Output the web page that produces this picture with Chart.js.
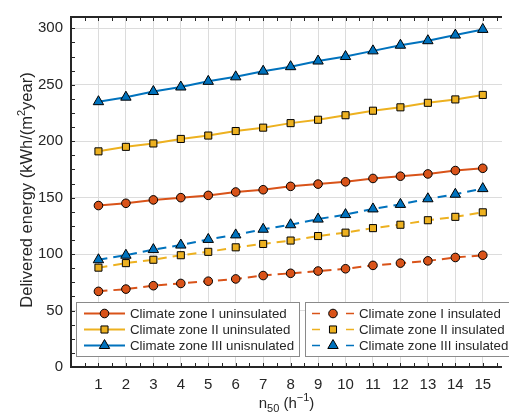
<!DOCTYPE html>
<html lang="en">
<head>
<meta charset="UTF-8">
<title>Delivered energy vs n50</title>
<script src="https://cdn.jsdelivr.net/npm/chart.js"></script>
<style>
  html, body { margin: 0; padding: 0; background: #fff; }
  #wrap { position: relative; width: 509px; height: 412px; }
</style>
</head>
<body>
<div id="wrap"><canvas id="energyChart" width="509" height="412"></canvas></div>
<script>
// air change rate n50 (1/h)
const n50 = [1, 2, 3, 4, 5, 6, 7, 8, 9, 10, 11, 12, 13, 14, 15];

// delivered energy, kWh/(m2 year)
const zone1Uninsulated = [143, 145, 148, 150, 152, 155, 157, 160, 162, 164, 167, 169, 171, 174, 176];
const zone2Uninsulated = [191, 195, 198, 202, 205, 209, 212, 216, 219, 223, 227, 230, 234, 237, 241];
const zone3Uninsulated = [235, 239, 244, 248, 253, 257, 262, 266, 271, 275, 280, 285, 289, 294, 299];
const zone1Insulated = [67, 69, 72, 74, 76, 78, 81, 83, 85, 87, 90, 92, 94, 97, 99];
const zone2Insulated = [88, 92, 95, 99, 102, 106, 109, 112, 116, 119, 123, 126, 130, 133, 137];
const zone3Insulated = [95, 99, 104, 108, 113, 117, 122, 126, 131, 135, 140, 144, 149, 153, 158];

const uninsulatedLabels = ['Climate zone I uninsulated', 'Climate zone II uninsulated', 'Climate zone III unisnulated'];
const insulatedLabels = ['Climate zone I insulated', 'Climate zone II insulated', 'Climate zone III insulated'];

const xTickValues = n50;
const yTickValues = [0, 50, 100, 150, 200, 250, 300];

const RED = '#D95319', YELLOW = '#EDB120', BLUE = '#0072BD';
const TXT = '#262626';
const FONT = '"Liberation Sans", Arial, sans-serif';

function pts(vals) {
    return vals.map((v, i) => ({ x: n50[i], y: v }));
}

function series(label, vals, color, style, radius, dashed) {
    return {
        label: label,
        data: pts(vals),
        borderColor: color,
        backgroundColor: color,
        borderWidth: 2,
        borderDash: dashed ? [9, 6] : [],
        pointStyle: style,
        pointRadius: radius,
        pointBackgroundColor: color,
        pointBorderColor: '#000',
        pointBorderWidth: 1,
        fill: false,
        tension: 0
    };
}

const datasets = [
    series(insulatedLabels[0], zone1Insulated, RED, 'circle', 4.3, true),
    series(insulatedLabels[1], zone2Insulated, YELLOW, 'rect', 5, true),
    series(insulatedLabels[2], zone3Insulated, BLUE, 'triangle', 6, true),
    series(uninsulatedLabels[0], zone1Uninsulated, RED, 'circle', 4.3, false),
    series(uninsulatedLabels[1], zone2Uninsulated, YELLOW, 'rect', 5, false),
    series(uninsulatedLabels[2], zone3Uninsulated, BLUE, 'triangle', 6, false)
];

// axis box, minor ticks, titles and the two legend boxes
const decorations = {
    id: 'decorations',
    afterDraw(chart) {
        const ctx = chart.ctx;
        const a = chart.chartArea;
        const x = chart.scales.x, y = chart.scales.y;
        ctx.save();

        // ticks (pointing inward)
        ctx.strokeStyle = TXT;
        ctx.lineWidth = 1;
        ctx.beginPath();
        for (let v = 0.5; v < x.max; v += 0.5) {
            const px = Math.round(x.getPixelForValue(v)) + 0.5;
            ctx.moveTo(px, a.bottom); ctx.lineTo(px, a.bottom - 4);
            ctx.moveTo(px, a.top); ctx.lineTo(px, a.top + 4);
        }
        for (let v = 12.5; v < y.max; v += 12.5) {
            const py = Math.round(y.getPixelForValue(v)) + 0.5;
            ctx.moveTo(a.left, py); ctx.lineTo(a.left + 4, py);
        }
        ctx.stroke();

        // axis lines
        ctx.lineWidth = 2;
        ctx.beginPath();
        ctx.moveTo(a.right, a.top); ctx.lineTo(a.left, a.top);
        ctx.lineTo(a.left, a.bottom); ctx.lineTo(a.right, a.bottom);
        ctx.stroke();

        // legends
        function box(x0, y0, w, h) {
            ctx.fillStyle = '#fff';
            ctx.fillRect(x0, y0, w, h);
            ctx.strokeStyle = '#8a8a8a';
            ctx.lineWidth = 1;
            ctx.strokeRect(x0 + 0.5, y0 + 0.5, w, h);
        }
        const rows = [313.5, 329.5, 345.5];
        box(76, 302, 223, 54);
        box(305, 302, 210, 54);
        ctx.font = '13.3px ' + FONT;
        ctx.textBaseline = 'middle';
        ctx.textAlign = 'left';
        for (let i = 0; i < 3; i++) {
            const ds = chart.data.datasets[i + 3];
            const di = chart.data.datasets[i];
            const ry = rows[i];
            // uninsulated entry
            ctx.strokeStyle = ds.borderColor;
            ctx.lineWidth = 2;
            ctx.setLineDash([]);
            ctx.beginPath(); ctx.moveTo(84, ry); ctx.lineTo(125, ry); ctx.stroke();
            ctx.fillStyle = ds.pointBackgroundColor;
            ctx.strokeStyle = '#000';
            ctx.lineWidth = 1;
            Chart.helpers.drawPoint(ctx, { pointStyle: ds.pointStyle, radius: ds.pointRadius, rotation: 0, borderWidth: 1 }, 104.5, ry);
            ctx.fillStyle = TXT;
            ctx.fillText(ds.label, 130, ry + 0.5);
            // insulated entry
            ctx.strokeStyle = di.borderColor;
            ctx.lineWidth = 1.5;
            ctx.beginPath();
            ctx.moveTo(312, ry); ctx.lineTo(320, ry);
            ctx.moveTo(346, ry); ctx.lineTo(354, ry);
            ctx.stroke();
            ctx.fillStyle = di.pointBackgroundColor;
            ctx.strokeStyle = '#000';
            ctx.lineWidth = 1;
            Chart.helpers.drawPoint(ctx, { pointStyle: di.pointStyle, radius: di.pointRadius, rotation: 0, borderWidth: 1 }, 333, ry);
            ctx.fillStyle = TXT;
            ctx.fillText(di.label, 359, ry + 0.5);
        }

        // y title with superscript
        ctx.fillStyle = TXT;
        ctx.textBaseline = 'alphabetic';
        const big = '16.5px ' + FONT, small = '11px ' + FONT;
        const yParts = [['Delivered energy (kWh/(m', big, 0], ['2', small, -7], ['year)', big, 0]];
        let total = 0;
        yParts.forEach(p => { ctx.font = p[1]; total += ctx.measureText(p[0]).width; });
        ctx.translate(32, 190);
        ctx.rotate(-Math.PI / 2);
        let cx = -total / 2;
        yParts.forEach(p => { ctx.font = p[1]; ctx.fillText(p[0], cx, p[2]); cx += ctx.measureText(p[0]).width; });
        ctx.setTransform(1, 0, 0, 1, 0, 0);

        // x title with subscript and superscript
        const xb = '15px ' + FONT, xs = '11px ' + FONT;
        const xParts = [['n', xb, 0], ['50', xs, 4], [' (h', xb, 0], ['\u22121', xs, -7], [')', xb, 0]];
        total = 0;
        xParts.forEach(p => { ctx.font = p[1]; total += ctx.measureText(p[0]).width; });
        cx = (a.left + a.right) / 2 - total / 2;
        xParts.forEach(p => { ctx.font = p[1]; ctx.fillText(p[0], cx, 408 + p[2]); cx += ctx.measureText(p[0]).width; });

        ctx.restore();
    }
};

const ctx = document.getElementById('energyChart').getContext('2d');
const chart = new Chart(ctx, {
    type: 'line',
    data: { datasets: datasets },
    options: {
        responsive: false,
        animation: false,
        devicePixelRatio: 1,
        layout: { padding: { top: 16, right: 0, left: 0, bottom: 0 } },
        plugins: {
            legend: { display: false },
            tooltip: { enabled: false }
        },
        scales: {
            x: {
                type: 'linear',
                min: 0,
                max: 15.7,
                afterBuildTicks: s => { s.ticks = xTickValues.map(v => ({ value: v })); },
                afterFit: s => { s.height = 45; },
                grid: { color: '#dcdcdc', lineWidth: 1, drawTicks: false },
                border: { display: false },
                ticks: {
                    padding: 9,
                    color: TXT,
                    maxRotation: 0,
                    autoSkip: false,
                    font: { family: FONT, size: 15 }
                }
            },
            y: {
                min: 0,
                max: 310,
                afterBuildTicks: s => { s.ticks = yTickValues.map(v => ({ value: v })); },
                afterFit: s => { s.width = 71; },
                grid: { color: '#dcdcdc', lineWidth: 1, drawTicks: false },
                border: { display: false },
                ticks: {
                    padding: 8,
                    color: TXT,
                    font: { family: FONT, size: 15 }
                }
            }
        }
    },
    plugins: [decorations]
});
</script>
</body>
</html>
